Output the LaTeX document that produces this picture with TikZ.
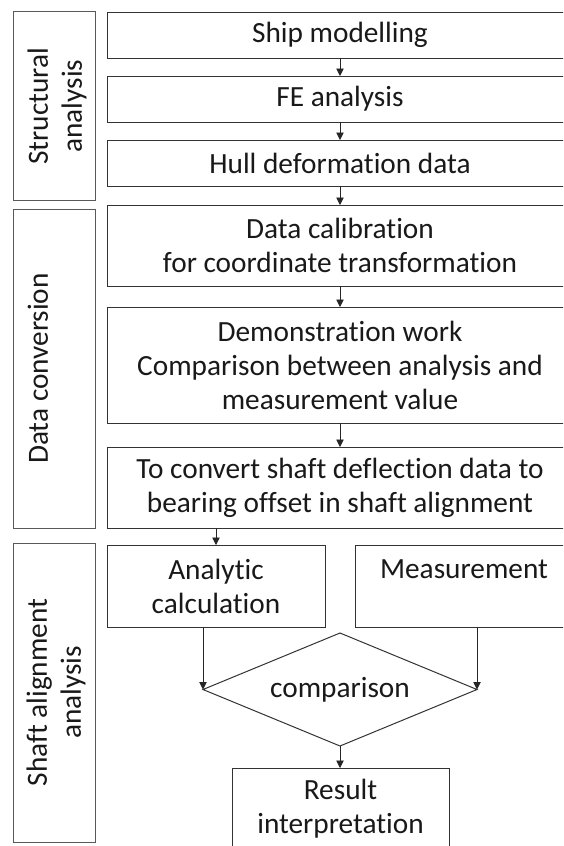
\documentclass[tikz,border=0pt]{standalone}
\usepackage{fontspec}
\setmainfont{Carlito}[Ligatures={NoCommon,NoRequired,NoContextual}]
\usetikzlibrary{arrows.meta,shapes.geometric}
\begin{document}
\begin{tikzpicture}[x=1pt,y=-1pt,
  txt/.style={font=\fontsize{29.3pt}{34pt}\selectfont, text=black!90, align=center},
  frame/.style={draw=black!80, line width=1pt, rectangle, inner sep=0pt, outer sep=0pt},
  mainbox/.style={frame, txt, minimum width=466pt},
  halfbox/.style={frame, txt, minimum width=218pt, minimum height=82pt},
  panel/.style={draw=black!65, line width=1pt, rectangle, inner sep=0pt, outer sep=0pt,
    minimum width=82pt},
  paneltext/.style={txt, rotate=90},
  decision/.style={diamond, aspect=2.42, draw=black!80, line width=1pt, txt, inner sep=0pt,
    outer sep=0pt, minimum width=274pt, minimum height=113pt},
  arr/.style={draw=black!85, line width=0.9pt, -{Triangle[width=7.5pt,length=7.5pt]}}]

\useasboundingbox (0,0) rectangle (563,846);
\fill[white] (0,0) rectangle (563,846);
\clip (0,0) rectangle (563,846);

% stage panels on the left
\node[panel, minimum height=188.5pt] (pstruct) at (54.5,106.2) {};
\node[paneltext] (tstruct) at (57,106.2) {Structural\\analysis};
\node[panel, minimum height=319pt] (pconv) at (54.5,368.5) {};
\node[paneltext] (tconv) at (38,368.5) {Data conversion};
\node[panel, minimum height=299pt] (pshaft) at (54.5,692.5) {};
\node[paneltext] (tshaft) at (56,692.5) {Shaft alignment\\analysis};

% process chain
\node[mainbox, minimum height=46pt] (ship) at (340,35.3) {Ship modelling};
\node[mainbox, minimum height=46pt] (fe) at (340,99) {FE analysis};
\node[mainbox, minimum height=46pt] (hull) at (340,163) {Hull deformation data};
\node[mainbox, minimum height=81pt] (calib) at (340,245.5) {Data calibration\\for coordinate transformation};
\node[mainbox, minimum height=116pt] (demo) at (340,365) {Demonstration work\\Comparison between analysis and\\measurement value};
\node[mainbox, minimum height=81pt] (conv) at (340,487.5) {To convert shaft deflection data to\\bearing offset in shaft alignment};

\node[halfbox] (anal) at (216,586) {Analytic\\calculation};
\node[halfbox] (meas) at (464,586) {Measurement\\\mbox{}};
\node[decision] (cmp) at (340,689.5) {comparison};
\node[halfbox, minimum width=217pt] (res) at (340.5,809) {Result\\interpretation};

% connectors
\draw[arr] (ship) -- (fe);
\draw[arr] (fe) -- (hull);
\draw[arr] (hull) -- (calib);
\draw[arr] (calib) -- (demo);
\draw[arr] (demo) -- (conv);
\draw[arr] (conv.south -| anal) -- (anal.north);
\draw[arr] (anal.south -| cmp.west) -- (cmp.west);
\draw[arr] (meas.south -| cmp.east) -- (cmp.east);
\draw[arr] (cmp.south) -- (res.north -| cmp.south);
\end{tikzpicture}
\end{document}
